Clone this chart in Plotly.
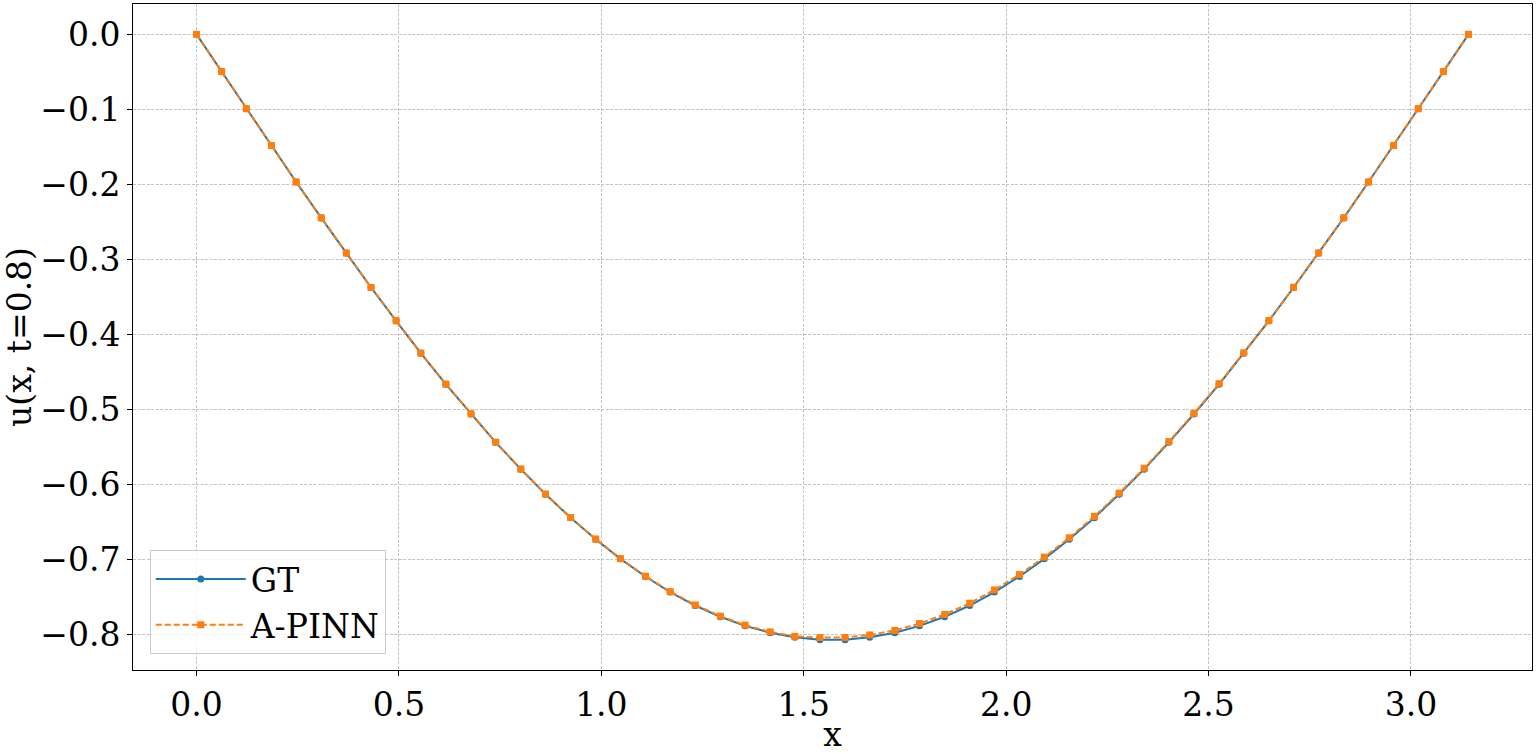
import plotly.graph_objects as go

# sample points in x (0 .. pi, 52 points)
x_values = [
    0.000, 0.062, 0.123, 0.185, 0.246, 0.308, 0.370, 0.431, 0.493, 0.554,
    0.616, 0.678, 0.739, 0.801, 0.862, 0.924, 0.986, 1.047, 1.109, 1.170,
    1.232, 1.294, 1.355, 1.417, 1.478, 1.540, 1.602, 1.663, 1.725, 1.786,
    1.848, 1.910, 1.971, 2.033, 2.094, 2.156, 2.218, 2.279, 2.341, 2.402,
    2.464, 2.526, 2.587, 2.649, 2.710, 2.772, 2.834, 2.895, 2.957, 3.018,
    3.080, 3.142,
]

gt_values = [
    0.0, -0.0497, -0.0992, -0.1483, -0.1968, -0.2446, -0.2915, -0.3373, -0.3818, -0.4248,
    -0.4663, -0.5059, -0.5437, -0.5794, -0.6128, -0.6440, -0.6727, -0.6989, -0.7224, -0.7432,
    -0.7611, -0.7761, -0.7882, -0.7973, -0.8033, -0.8066, -0.8066, -0.8033, -0.7973, -0.7882,
    -0.7761, -0.7611, -0.7432, -0.7224, -0.6989, -0.6727, -0.6440, -0.6128, -0.5794, -0.5437,
    -0.5059, -0.4663, -0.4248, -0.3818, -0.3373, -0.2915, -0.2446, -0.1968, -0.1483, -0.0992,
    -0.0497, 0.0,
]

apinn_values = [
    0.0, -0.0497, -0.0991, -0.1482, -0.1967, -0.2445, -0.2914, -0.3372, -0.3817, -0.4247,
    -0.4661, -0.5057, -0.5435, -0.5792, -0.6126, -0.6438, -0.6725, -0.6986, -0.7220, -0.7426,
    -0.7603, -0.7752, -0.7872, -0.7962, -0.8022, -0.8038, -0.8036, -0.8003, -0.7943, -0.7851,
    -0.7730, -0.7580, -0.7403, -0.7198, -0.6966, -0.6708, -0.6423, -0.6114, -0.5781, -0.5426,
    -0.5050, -0.4655, -0.4243, -0.3814, -0.3370, -0.2913, -0.2444, -0.1967, -0.1482, -0.0991,
    -0.0497, 0.0,
]

font_family = "DejaVu Serif"

fig = go.Figure()

# Ground truth
fig.add_trace(
    go.Scatter(
        x=x_values,
        y=gt_values,
        name="GT",
        mode="lines+markers",
        line=dict(color="#1f77b4", width=2),
        marker=dict(symbol="circle", size=7, color="#1f77b4"),
    )
)

# A-PINN prediction
fig.add_trace(
    go.Scatter(
        x=x_values,
        y=apinn_values,
        name="A-PINN",
        mode="lines+markers",
        line=dict(color="#ff7f0e", width=2, dash="6px,3px"),
        marker=dict(symbol="square", size=7, color="#ff7f0e"),
    )
)

axis_style = dict(
    showline=True,
    linecolor="black",
    linewidth=1,
    mirror=True,
    ticks="outside",
    ticklen=5,
    tickcolor="black",
    showgrid=True,
    gridcolor="#c4c4c4",
    gridwidth=0.8,
    griddash="3px,1.5px",
    zeroline=False,
    tickfont=dict(family=font_family, size=33, color="black"),
    automargin=False,
)

fig.update_layout(
    width=1536,
    height=754,
    margin=dict(l=133, r=4, t=4, b=84),
    plot_bgcolor="white",
    paper_bgcolor="white",
    font=dict(family=font_family, size=33, color="black"),
    xaxis=dict(
        range=[-0.157, 3.299],
        dtick=0.5,
        tickformat=".1f",
        title=dict(text="x", font=dict(family=font_family, size=33), standoff=6),
        **axis_style,
    ),
    yaxis=dict(
        range=[-0.847, 0.0404],
        dtick=0.1,
        tickformat=".1f",
        title=dict(text="u(x, t=0.8)", font=dict(family=font_family, size=33), standoff=12),
        **axis_style,
    ),
    legend=dict(
        x=0.012,
        y=0.024,
        xanchor="left",
        yanchor="bottom",
        itemwidth=90,
        bgcolor="rgba(255,255,255,0.8)",
        bordercolor="#cccccc",
        borderwidth=1,
        font=dict(family=font_family, size=33, color="black"),
    ),
)

# drop the default page margin so the figure sits at the window's corner
fig.write_html(
    "out.html",
    config={"displayModeBar": False},
    post_script="document.body.style.margin='0';",
)
